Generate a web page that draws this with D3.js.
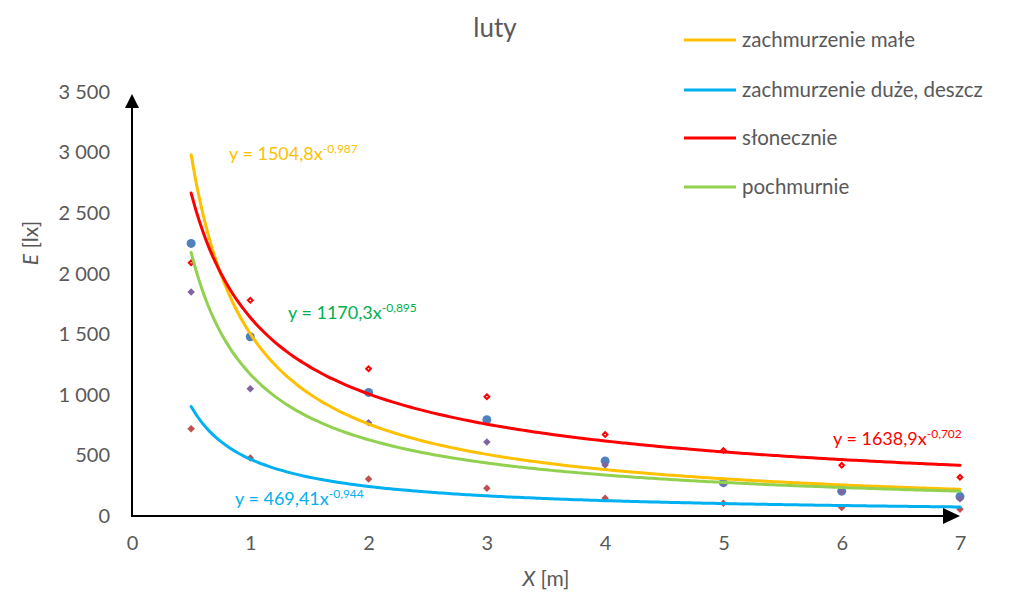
<!DOCTYPE html>
<html>
<head>
<meta charset="utf-8">
<script src="https://cdn.jsdelivr.net/npm/d3@7"></script>
<style>
  html, body { margin: 0; padding: 0; background: #fff; }
  svg text { font-family: Lato, "Open Sans", sans-serif; }
</style>
</head>
<body>
<svg id="chart" width="1012" height="596"></svg>
<script>
// Measurement distances [m]
const distances = [0.5, 1, 2, 3, 4, 5, 6, 7];

// Illuminance readings [lx] for each weather condition
const zachmurzenieMale = [2250, 1480, 1020, 795, 455, 275, 205, 160];
const zachmurzenieDuze = [720, 478, 305, 230, 147, 105, 70, 55];
const slonecznie      = [2090, 1780, 1215, 985, 672, 540, 418, 320];
const pochmurnie      = [1850, 1050, 770, 610, 422, 270, 200, 142];

// Power trendline coefficients y = a * x^b
const trendNames = ["zachmurzenie małe", "zachmurzenie duże, deszcz", "słonecznie", "pochmurnie"];
const trendA = [1504.8, 469.41, 1638.9, 1170.3];
const trendB = [-0.987, -0.944, -0.702, -0.895];
const trendALabels = ["1504,8", "469,41", "1638,9", "1170,3"];
const trendBLabels = ["-0,987", "-0,944", "-0,702", "-0,895"];
const trendColors = ["#FFC000", "#00B0F0", "#FF0000", "#92D050"];
const labelColors = ["#FFC000", "#00B0F0", "#FF0000", "#00B050"];

const xTicks = [0, 1, 2, 3, 4, 5, 6, 7];
const yTicks = [0, 500, 1000, 1500, 2000, 2500, 3000, 3500];

const svg = d3.select("#chart");
const x = d3.scaleLinear().domain([0, 7]).range([132, 960]);
const y = d3.scaleLinear().domain([0, 3500]).range([516, 92]);

const grey = "#595959";

// Title
svg.append("text").attr("x", 495).attr("y", 37).attr("text-anchor", "middle")
  .attr("font-size", 26).attr("fill", grey).text("luty");

// Axis tick labels through d3 axes (lines hidden, custom arrows drawn below)
const yAxis = svg.append("g").attr("transform", "translate(132,0)")
  .call(d3.axisLeft(y).tickValues(yTicks).tickSize(0).tickPadding(22)
    .tickFormat(d => d3.format(",")(d).replace(/,/g, " ")));
const xAxis = svg.append("g").attr("transform", "translate(0,516)")
  .call(d3.axisBottom(x).tickValues(xTicks).tickSize(0).tickPadding(20)
    .tickFormat(d3.format("d")));
[yAxis, xAxis].forEach(g => {
  g.select(".domain").remove();
  g.selectAll("text").attr("font-size", 20).attr("fill", grey)
    .attr("font-family", "Lato, 'Open Sans', sans-serif");
});

// Axis titles
const yTitle = svg.append("text").attr("transform", "translate(38,243) rotate(-90)")
  .attr("text-anchor", "middle").attr("font-size", 21).attr("fill", grey);
yTitle.append("tspan").attr("font-style", "italic").text("E");
yTitle.append("tspan").text(" [lx]");
const xTitle = svg.append("text").attr("x", 546).attr("y", 586)
  .attr("text-anchor", "middle").attr("font-size", 21).attr("fill", grey);
xTitle.append("tspan").attr("font-style", "italic").text("X");
xTitle.append("tspan").text(" [m]");

// Scatter markers
const pts = (vals) => distances.map((d, i) => ({ x: d, y: vals[i] }));
const diamond = d3.symbol().type(d3.symbolDiamond2);

svg.append("g").selectAll("circle").data(pts(zachmurzenieMale)).join("circle")
  .attr("cx", d => x(d.x)).attr("cy", d => y(d.y)).attr("r", 4.5).attr("fill", "#4F81BD");

svg.append("g").selectAll("path").data(pts(slonecznie)).join("path")
  .attr("transform", d => `translate(${x(d.x)},${y(d.y)})`)
  .attr("d", diamond.size(14)).attr("fill", "#fff").attr("stroke", "#FF0000").attr("stroke-width", 2);

svg.append("g").selectAll("path").data(pts(pochmurnie)).join("path")
  .attr("transform", d => `translate(${x(d.x)},${y(d.y)})`)
  .attr("d", diamond.size(36)).attr("fill", "#8064A2");

svg.append("g").selectAll("path").data(pts(zachmurzenieDuze)).join("path")
  .attr("transform", d => `translate(${x(d.x)},${y(d.y)})`)
  .attr("d", diamond.size(36)).attr("fill", "#C0504D");

// Power trendlines
const curveXs = d3.range(0.5, 7.0001, 0.05);
const line = d3.line().x(d => x(d[0])).y(d => y(d[1])).curve(d3.curveMonotoneX);
trendA.forEach((a, i) => {
  svg.append("path")
    .attr("d", line(curveXs.map(v => [v, a * Math.pow(v, trendB[i])])))
    .attr("fill", "none").attr("stroke", trendColors[i]).attr("stroke-width", 3)
    .attr("stroke-linecap", "round");
});

// Axis lines with arrowheads
svg.append("line").attr("x1", 132).attr("y1", 516).attr("x2", 132).attr("y2", 100)
  .attr("stroke", "#000").attr("stroke-width", 2);
svg.append("path").attr("d", "M132,94 L125,108 L139,108 Z").attr("fill", "#000");
svg.append("line").attr("x1", 131).attr("y1", 516).attr("x2", 950).attr("y2", 516)
  .attr("stroke", "#000").attr("stroke-width", 2);
svg.append("path").attr("d", "M960,516 L943,508 L943,524 Z").attr("fill", "#000");

// Trendline equations
const eqPos = [[229, 160], [235, 505], [833, 445], [288, 319]];
trendA.forEach((a, i) => {
  const t = svg.append("text").attr("x", eqPos[i][0]).attr("y", eqPos[i][1])
    .attr("font-size", 18).attr("fill", labelColors[i]);
  t.append("tspan").text(`y = ${trendALabels[i]}x`);
  t.append("tspan").attr("font-size", 12).attr("dy", -7).text(trendBLabels[i]);
});

// Legend
const legendY = [40, 90, 138, 187];
trendNames.forEach((name, i) => {
  svg.append("line").attr("x1", 684).attr("x2", 736)
    .attr("y1", legendY[i]).attr("y2", legendY[i])
    .attr("stroke", trendColors[i]).attr("stroke-width", 3);
  svg.append("text").attr("x", 742).attr("y", legendY[i] + 7)
    .attr("font-size", 20.5).attr("fill", grey).text(name);
});
</script>
</body>
</html>
